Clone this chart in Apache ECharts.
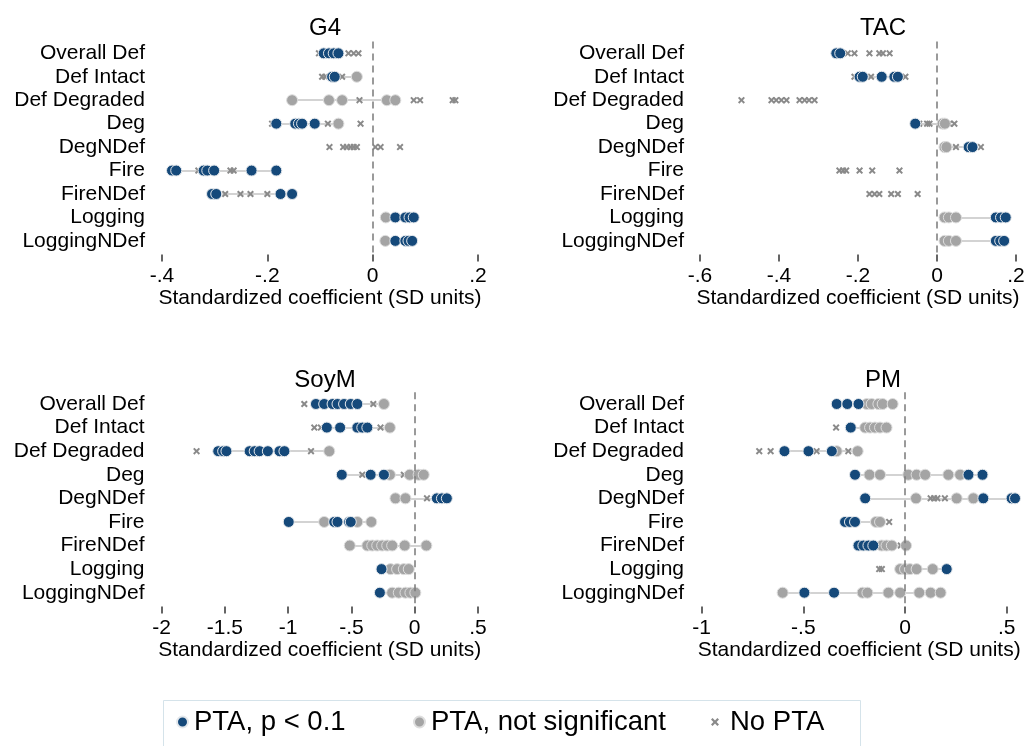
<!DOCTYPE html>
<html>
<head>
<meta charset="utf-8">
<script src="https://cdn.jsdelivr.net/npm/echarts@6/dist/echarts.min.js"></script>
<style>html,body{margin:0;padding:0;background:#fff;}#c{width:1028px;height:746px;}</style>
</head>
<body>
<div id="c"></div>
<script>
const cats = ['Overall Def','Def Intact','Def Degraded','Deg','DegNDef','Fire','FireNDef','Logging','LoggingNDef'];
const panelTitles = ['G4','TAC','SoyM','PM'];
const xTicks = {G4:[-0.4,0.2,0.2], TAC:[-0.6,0.2,0.2], SoyM:[-2,0.5,0.5], PM:[-1,0.5,0.5]};

// G4
const g4Sig = [[-0.093,-0.083,-0.074,-0.065],[-0.077,-0.072],[],[-0.183,-0.147,-0.140,-0.134,-0.110],[],[-0.381,-0.373,-0.321,-0.314,-0.301,-0.230,-0.183],[-0.305,-0.297,-0.175,-0.153],[0.043,0.062,0.070,0.078],[0.043,0.062,0.068,0.075]];
const g4Ns  = [[],[-0.030],[-0.153,-0.083,-0.058,0.027,0.043],[-0.065],[],[],[],[0.025],[0.024]];
const g4No  = [[-0.102,-0.046,-0.036,-0.027],[-0.096,-0.090,-0.058],[-0.025,0.078,0.090,0.152,0.157],[-0.191,-0.085,-0.023],[-0.082,-0.056,-0.049,-0.042,-0.036,-0.030,0.005,0.015,0.052],[-0.331,-0.270,-0.264],[-0.280,-0.251,-0.232,-0.200],[],[]];
// TAC
const tacSig = [[-0.255,-0.245],[-0.196,-0.188,-0.140,-0.108,-0.099],[],[-0.055],[0.080,0.090],[],[],[0.149,0.162,0.174],[0.149,0.160,0.170]];
const tacNs  = [[],[],[],[0.014,0.020],[0.019,0.024],[],[],[0.019,0.030,0.048],[0.019,0.030,0.048]];
const tacNo  = [[-0.226,-0.209,-0.171,-0.146,-0.137,-0.120],[-0.209,-0.167,-0.080],[-0.495,-0.419,-0.407,-0.394,-0.381,-0.348,-0.335,-0.324,-0.310],[-0.045,-0.025,-0.019,0.031,0.044],[0.048,0.111],[-0.247,-0.238,-0.230,-0.196,-0.164,-0.095],[-0.171,-0.158,-0.146,-0.116,-0.099,-0.049],[],[]];
// SoyM
const soySig = [[-0.780,-0.715,-0.649,-0.610,-0.558,-0.505,-0.453],[-0.694,-0.589,-0.453,-0.414,-0.374],[-1.552,-1.513,-1.487,-1.304,-1.264,-1.225,-1.160,-1.068,-1.029],[-0.576,-0.348,-0.243],[0.175,0.215,0.254],[-0.995,-0.636,-0.610,-0.518,-0.505],[],[-0.262],[-0.275]];
const soyNs  = [[-0.243],[-0.196],[-0.675],[-0.196,-0.039,0.031,0.071],[-0.152,-0.073],[-0.715,-0.453,-0.343],[-0.513,-0.374,-0.335,-0.296,-0.257,-0.217,-0.178,-0.079,0.092],[-0.191,-0.139,-0.086,-0.047],[-0.178,-0.126,-0.073,-0.034,0.005]];
const soyNo  = [[-0.872,-0.327],[-0.793,-0.741,-0.270],[-1.723,-0.819],[-0.414,-0.086],[0.097],[],[],[],[]];
// PM
const pmSig = [[-0.336,-0.284,-0.229],[-0.267],[-0.593,-0.475,-0.360],[-0.246,0.312,0.381],[-0.196,0.385,0.524,0.541],[-0.295,-0.271,-0.246],[-0.229,-0.205,-0.180,-0.156],[0.205],[-0.495,-0.349]];
const pmNs  = [[-0.188,-0.164,-0.131,-0.110,-0.061],[-0.196,-0.172,-0.148,-0.123,-0.091],[-0.336,-0.233],[-0.175,-0.123,0.016,0.057,0.099,0.213,0.271],[0.054,0.254,0.336],[-0.143,-0.123],[-0.115,-0.091,-0.065,0.005],[-0.024,0.000,0.024,0.057,0.136],[-0.602,-0.209,-0.185,-0.082,-0.024,0.070,0.126,0.175]];
const pmNo  = [[],[-0.339],[-0.717,-0.661,-0.435,-0.279],[],[0.126,0.143,0.159,0.196],[-0.078],[-0.021],[-0.127,-0.114],[]];

const legendNames = ['PTA, p < 0.1','PTA, not significant','No PTA'];

const FONT = 'Liberation Sans, Arial, Helvetica, sans-serif';
const BLUE = '#15497a', GREY = '#a4a4a4', XCOL = '#8a8a8a', LINE = '#c4c4c4';
const XPATH = 'path://M2,0 L5,3 L8,0 L10,2 L7,5 L10,8 L8,10 L5,7 L2,10 L0,8 L3,5 L0,2 Z';

const panels = [
  {name:'G4', sig:g4Sig, ns:g4Ns, no:g4No},
  {name:'TAC', sig:tacSig, ns:tacNs, no:tacNo},
  {name:'SoyM', sig:soySig, ns:soyNs, no:soyNo},
  {name:'PM', sig:pmSig, ns:pmNs, no:pmNo}
];
const grids = [
  {left:162, top:41.6, width:316, height:211},
  {left:700, top:41.6, width:316, height:211},
  {left:161.5, top:392.2, width:316.5, height:212.3},
  {left:701.7, top:392.2, width:305, height:212.3}
];
const titlePos = [[320,11],[878,11],[320,363],[878,363]];
const labelMargin = [17,16,17,17.7];

function toPts(arr){ const out=[]; arr.forEach((row,i)=>row.forEach(v=>out.push([v,i]))); return out; }
function ranges(sig, ns){
  const out=[];
  cats.forEach((c,i)=>{ const v=sig[i].concat(ns[i]); if(v.length) out.push({coords:[[Math.min(...v),i],[Math.max(...v),i]]}); });
  return out;
}
function fmt(v){ if (Math.abs(v)<1e-9) return '0'; let s=String(+v.toFixed(2)); return s.replace(/^(-?)0\./,'$1.'); }

const option = {
  backgroundColor:'#fff',
  animation:false,
  textStyle:{fontFamily:FONT},
  title: panels.map((p,k)=>({text:p.name, left:titlePos[k][0], top:titlePos[k][1], textAlign:'center',
    textStyle:{fontFamily:FONT, fontSize:24, fontWeight:'normal', color:'#000'}})),
  grid: grids.map(g=>Object.assign({containLabel:false, outerBoundsMode:'none'}, g)),
  xAxis: panels.map((p,k)=>({gridIndex:k, type:'value', min:xTicks[p.name][0], max:xTicks[p.name][1], interval:xTicks[p.name][2],
    offset:2, axisLine:{show:false}, splitLine:{show:false},
    axisTick:{show:true, length:7, lineStyle:{color:'#333', width:1.5}},
    axisLabel:{formatter:fmt, fontSize:21, color:'#000', margin:11, fontFamily:FONT},
    name:'Standardized coefficient (SD units)', nameLocation:'middle', nameGap:32,
    nameTextStyle:{fontSize:21, color:'#000', fontFamily:FONT, padding: k===3?[0,0,0,10]:0}})),
  yAxis: panels.map((p,k)=>({gridIndex:k, type:'category', data:cats, inverse:true,
    axisLine:{show:false}, axisTick:{show:false}, splitLine:{show:false},
    axisLabel:{interval:0, fontSize:21, color:'#000', margin:labelMargin[k], fontFamily:FONT, hideOverlap:false}})),
  legend: [
    {data:[legendNames[0]], left:176, top:708, itemWidth:11, itemHeight:11, itemGap:0, padding:0,
      textStyle:{fontSize:27.5, color:'#000', fontFamily:FONT, padding:[0,0,0,1]}},
    {data:[legendNames[1]], left:413, top:708, itemWidth:11, itemHeight:11, itemGap:0, padding:0,
      textStyle:{fontSize:27.5, color:'#000', fontFamily:FONT, padding:[0,0,0,1]}},
    {data:[legendNames[2]], left:711, top:708, itemWidth:8, itemHeight:8, itemGap:0, padding:0,
      textStyle:{fontSize:27.5, color:'#000', fontFamily:FONT, padding:[0,0,0,6]}}
  ],
  graphic: [{type:'rect', shape:{x:163.5, y:700.5, width:697, height:80}, style:{fill:'none', stroke:'#d5e3ea', lineWidth:1}, silent:true}],
  series: []
};

panels.forEach((p,k)=>{
  option.series.push({type:'lines', coordinateSystem:'cartesian2d', xAxisIndex:k, yAxisIndex:k, clip:false, silent:true, z:1,
    lineStyle:{color:LINE, width:1.6, opacity:1}, data:ranges(p.sig,p.ns),
    markLine:{silent:true, symbol:'none', label:{show:false}, animation:false,
      lineStyle:{type:[7,5], color:'#7a7a7a', width:1.5}, data:[{xAxis:0}]}});
  option.series.push({name:legendNames[2], type:'scatter', xAxisIndex:k, yAxisIndex:k, clip:false, z:2,
    symbol:XPATH, symbolSize:7, itemStyle:{color:XCOL, opacity:1}, data:toPts(p.no)});
  option.series.push({name:legendNames[1], type:'scatter', xAxisIndex:k, yAxisIndex:k, clip:false, z:3,
    symbol:'circle', symbolSize:11, itemStyle:{color:GREY, borderColor:'#dedede', borderWidth:1, opacity:1}, data:toPts(p.ns)});
  option.series.push({name:legendNames[0], type:'scatter', xAxisIndex:k, yAxisIndex:k, clip:false, z:4,
    symbol:'circle', symbolSize:11, itemStyle:{color:BLUE, borderColor:'#e4e8ec', borderWidth:1, opacity:1}, data:toPts(p.sig)});
});

const chart = echarts.init(document.getElementById('c'), null, {renderer:'canvas'});
chart.setOption(option);
</script>
</body>
</html>
